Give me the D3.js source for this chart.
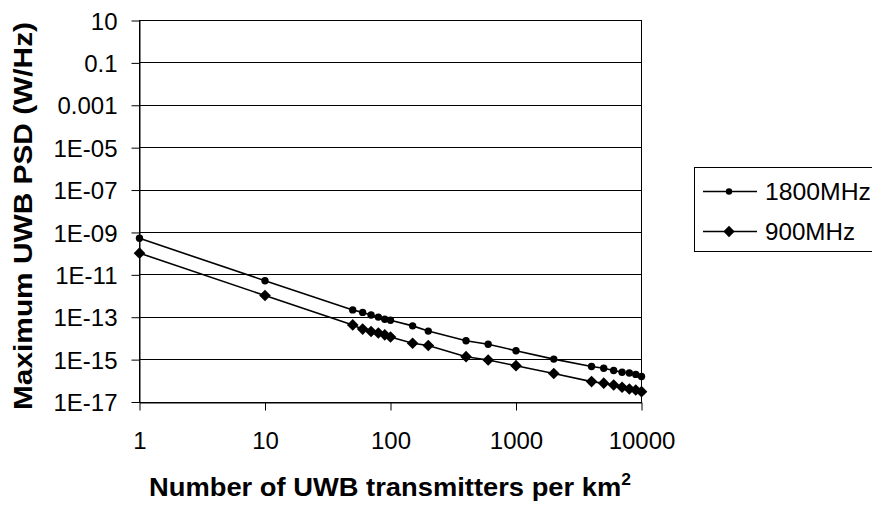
<!DOCTYPE html>
<html>
<head>
<meta charset="utf-8">
<script src="https://cdn.jsdelivr.net/npm/d3@7"></script>
<style>
  html, body { margin: 0; padding: 0; background: #fff; }
  svg { display: block; font-family: Arial, "Liberation Sans", sans-serif; }
</style>
</head>
<body>
<svg id="chart" width="872" height="506"></svg>
<script>
// Transmitter densities (per km^2)
const densities = [1, 10, 50, 60, 70, 80, 90, 100, 150, 200, 400, 600, 1000, 2000, 4000, 5000, 6000, 7000, 8000, 9000, 10000];

// Maximum UWB PSD (W/Hz) for each band
const psd1800 = [5.0e-10, 5.0e-12, 2.1e-13, 1.6e-13, 1.2e-13, 9.6e-14, 7.6e-14, 6.8e-14, 3.7e-14, 2.1e-14, 7.4e-15, 5.0e-15, 2.5e-15, 1.0e-15, 4.5e-16, 3.7e-16, 2.9e-16, 2.4e-16, 2.2e-16, 1.9e-16, 1.5e-16];
const psd900  = [1.0e-10, 1.0e-12, 4.1e-14, 2.6e-14, 2.0e-14, 1.7e-14, 1.4e-14, 1.1e-14, 5.6e-15, 4.4e-15, 1.3e-15, 9.1e-16, 4.9e-16, 2.1e-16, 8.7e-17, 7.3e-17, 6.0e-17, 4.7e-17, 3.9e-17, 3.5e-17, 2.9e-17];

const seriesNames = ["1800MHz", "900MHz"];

// Axis ticks
const xTickValues = [1, 10, 100, 1000, 10000];
const xTickLabels = ["1", "10", "100", "1000", "10000"];
const yTickValues = [10, 0.1, 0.001, 1e-5, 1e-7, 1e-9, 1e-11, 1e-13, 1e-15, 1e-17];
const yTickLabels = ["10", "0.1", "0.001", "1E-05", "1E-07", "1E-09", "1E-11", "1E-13", "1E-15", "1E-17"];

const svg = d3.select("#chart");
const plotL = 139.5, plotR = 641.5, plotT = 20, plotB = 401.5;

const x = d3.scaleLog().domain([1, 10000]).range([plotL, plotR]);
const y = d3.scaleLog().domain([1e-17, 10]).range([plotB, plotT]);

// Horizontal gridlines
svg.append("g")
  .selectAll("line")
  .data(yTickValues)
  .join("line")
  .attr("x1", plotL).attr("x2", plotR)
  .attr("y1", d => Math.round(y(d)) + 0.5).attr("y2", d => Math.round(y(d)) + 0.5)
  .attr("stroke", "#000").attr("stroke-width", 1);

// Plot frame
svg.append("rect")
  .attr("x", plotL).attr("y", plotT + 0.5)
  .attr("width", plotR - plotL).attr("height", Math.round(plotB) - plotT)
  .attr("fill", "none").attr("stroke", "#000").attr("stroke-width", 1);

const tickFont = 24;

// Y axis
const yAxis = svg.append("g")
  .attr("transform", `translate(${plotL},0.5)`)
  .call(d3.axisLeft(y)
    .tickValues(yTickValues)
    .tickFormat((d, i) => yTickLabels[i])
    .tickSize(8)
    .tickSizeOuter(0)
    .tickPadding(14));
yAxis.select(".domain").attr("stroke", "#000");
yAxis.selectAll("line").attr("stroke", "#000");
yAxis.selectAll("text")
  .attr("font-size", tickFont)
  .attr("font-family", "Arial, 'Liberation Sans', sans-serif")
  .attr("fill", "#000")
  .attr("dy", "0.36em");

// X axis
const xAxis = svg.append("g")
  .attr("transform", `translate(0,${Math.round(plotB) + 0.5})`)
  .call(d3.axisBottom(x)
    .tickValues(xTickValues)
    .tickFormat((d, i) => xTickLabels[i])
    .tickSize(8)
    .tickSizeOuter(0)
    .tickPadding(21));
xAxis.select(".domain").attr("stroke", "#000");
xAxis.selectAll("line").attr("stroke", "#000");
xAxis.selectAll("text")
  .attr("font-size", tickFont)
  .attr("font-family", "Arial, 'Liberation Sans', sans-serif")
  .attr("fill", "#000");

// Series lines and markers
const line = d3.line().x(d => x(d[0])).y(d => y(d[1]));
const data1800 = densities.map((n, i) => [n, psd1800[i]]);
const data900 = densities.map((n, i) => [n, psd900[i]]);

function drawSeries(data, kind) {
  svg.append("path")
    .datum(data)
    .attr("d", line)
    .attr("fill", "none")
    .attr("stroke", "#000")
    .attr("stroke-width", 1.6);
  const g = svg.append("g");
  if (kind === "circle") {
    g.selectAll("circle").data(data).join("circle")
      .attr("cx", d => x(d[0])).attr("cy", d => y(d[1]))
      .attr("r", 3.7).attr("fill", "#000");
  } else {
    g.selectAll("path").data(data).join("path")
      .attr("d", d3.symbol().type(d3.symbolSquare).size(68)())
      .attr("transform", d => `translate(${x(d[0])},${y(d[1])}) rotate(45)`)
      .attr("fill", "#000");
  }
}
drawSeries(data1800, "circle");
drawSeries(data900, "diamond");

// Axis titles
const xTitle = svg.append("text")
  .attr("x", 149)
  .attr("y", 496)
  .attr("text-anchor", "start")
  .attr("font-size", 25)
  .attr("font-weight", "bold")
  .attr("fill", "#000")
  .attr("textLength", 482)
  .attr("lengthAdjust", "spacingAndGlyphs");
xTitle.append("tspan").text("Number of UWB transmitters per km");
xTitle.append("tspan")
  .attr("font-size", 16)
  .attr("dy", -11)
  .text("2");

svg.append("text")
  .attr("transform", `translate(32,410) rotate(-90)`)
  .attr("text-anchor", "start")
  .attr("font-size", 25)
  .attr("font-weight", "bold")
  .attr("fill", "#000")
  .attr("textLength", 388)
  .attr("lengthAdjust", "spacingAndGlyphs")
  .text("Maximum UWB PSD (W/Hz)");

// Legend
const legend = svg.append("g");
legend.append("rect")
  .attr("x", 694.5).attr("y", 167.5)
  .attr("width", 200).attr("height", 84)
  .attr("fill", "#fff").attr("stroke", "#000").attr("stroke-width", 1);

const legendRows = [
  { name: seriesNames[0], kind: "circle", y: 191.5 },
  { name: seriesNames[1], kind: "diamond", y: 231.5 }
];
legendRows.forEach(r => {
  legend.append("line")
    .attr("x1", 703).attr("x2", 757)
    .attr("y1", r.y).attr("y2", r.y)
    .attr("stroke", "#000").attr("stroke-width", 1.6);
  if (r.kind === "circle") {
    legend.append("circle").attr("cx", 729).attr("cy", r.y).attr("r", 3.2).attr("fill", "#000");
  } else {
    legend.append("path")
      .attr("d", d3.symbol().type(d3.symbolSquare).size(64)())
      .attr("transform", `translate(729,${r.y}) rotate(45)`)
      .attr("fill", "#000");
  }
  legend.append("text")
    .attr("x", 765).attr("y", r.y + 8.5)
    .attr("font-size", tickFont)
    .attr("fill", "#000")
    .attr("textLength", 106)
    .attr("lengthAdjust", "spacingAndGlyphs")
    .attr("textLength", r.name.length === 7 ? 106 : 90)
    .text(r.name);
});
</script>
</body>
</html>
